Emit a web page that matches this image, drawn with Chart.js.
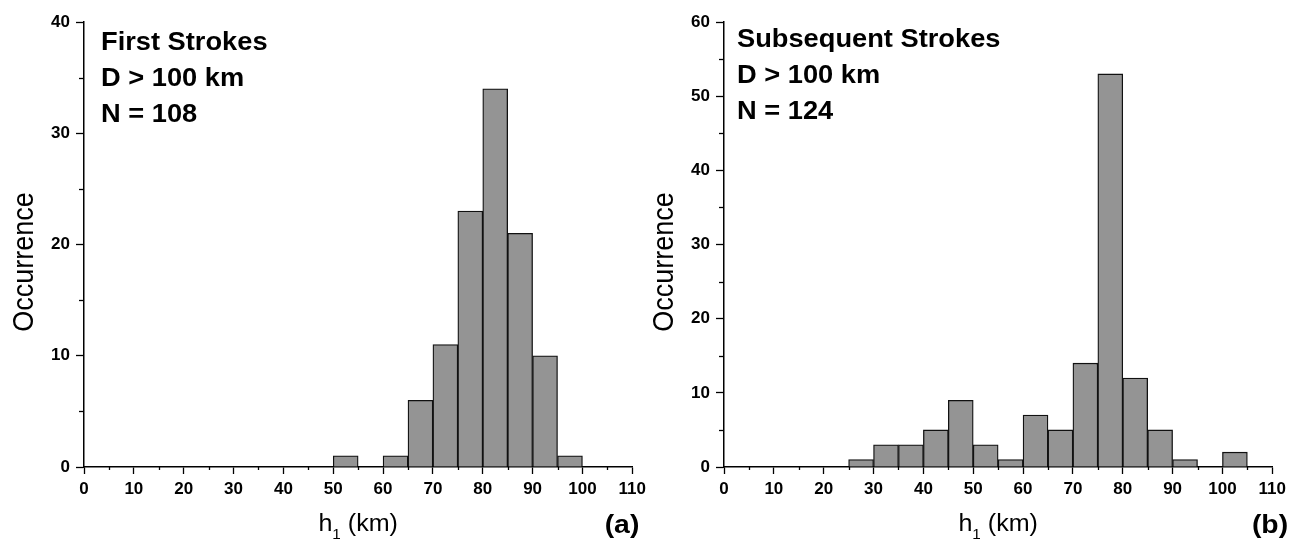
<!DOCTYPE html>
<html>
<head>
<meta charset="utf-8">
<script src="https://cdn.jsdelivr.net/npm/chart.js@4.4.1/dist/chart.umd.min.js"></script>
<style>
  html, body { margin: 0; padding: 0; background: #fff; }
  #wrap { position: relative; width: 1302px; height: 548px; overflow: hidden; background: #fff; }
  #wrap canvas { position: absolute; top: 0; }
</style>
</head>
<body>
<div id="wrap">
  <canvas id="firstChart" width="651" height="548" style="left:0px"></canvas>
  <canvas id="subsChart" width="651" height="548" style="left:640px"></canvas>
</div>
<script>
// 5 km bins, lower edge of each bin (km)
const binStarts = [0, 5, 10, 15, 20, 25, 30, 35, 40, 45, 50, 55, 60, 65, 70, 75, 80, 85, 90, 95, 100, 105];
const binWidth = 5;

// (a) first strokes, D > 100 km
const firstCounts = [0, 0, 0, 0, 0, 0, 0, 0, 0, 0, 1, 0, 1, 6, 11, 23, 34, 21, 10, 1, 0, 0];
// (b) subsequent strokes, D > 100 km
const subsCounts = [0, 0, 0, 0, 0, 1, 3, 3, 5, 9, 3, 1, 7, 5, 14, 53, 12, 5, 1, 0, 2, 0];

const xTicks = [0, 10, 20, 30, 40, 50, 60, 70, 80, 90, 100, 110];
const firstYTicks = [0, 10, 20, 30, 40];
const subsYTicks = [0, 10, 20, 30, 40, 50, 60];

const firstLabels = ['First Strokes', 'D > 100 km', 'N = 108'];
const subsLabels = ['Subsequent Strokes', 'D > 100 km', 'N = 124'];

const yTitle = 'Occurrence';
const FONT = '"Liberation Sans", Arial, Helvetica, sans-serif';
const STRETCH = 1.09; // the figure is a little wider than tall

// draw text squeezed/stretched horizontally
function stretchText(ctx, text, x, y, sx) {
    ctx.save();
    ctx.translate(x, y);
    ctx.scale(sx, 1);
    ctx.fillText(text, 0, 0);
    ctx.restore();
}

// minor ticks, axis titles and the panel texts
const panelDecor = {
    id: 'panelDecor',
    afterDraw(chart, args, opts) {
        const ctx = chart.ctx;
        const xs = chart.scales.x;
        const ys = chart.scales.y;
        const area = chart.chartArea;

        ctx.save();
        ctx.strokeStyle = '#000';
        ctx.lineWidth = 1.3;
        // minor ticks on the y axis
        for (let v = ys.min + 5; v < ys.max; v += 10) {
            const py = Math.round(ys.getPixelForValue(v)) + 0.5;
            ctx.beginPath();
            ctx.moveTo(area.left - 5, py);
            ctx.lineTo(area.left, py);
            ctx.stroke();
        }
        // minor ticks on the x axis
        for (let v = xs.min + 5; v < xs.max; v += 10) {
            const px = Math.round(xs.getPixelForValue(v)) + 0.5;
            ctx.beginPath();
            ctx.moveTo(px, area.bottom);
            ctx.lineTo(px, area.bottom + 3);
            ctx.stroke();
        }

        ctx.fillStyle = '#000';

        // y axis title, rotated
        ctx.save();
        ctx.font = '27px ' + FONT;
        ctx.textAlign = 'center';
        ctx.textBaseline = 'alphabetic';
        ctx.translate(33, 262);
        ctx.scale(STRETCH, 1);
        ctx.rotate(-Math.PI / 2);
        ctx.fillText(yTitle, 0, 0);
        ctx.restore();

        // x axis title: h with subscript 1
        const cx = (area.left + area.right) / 2;
        ctx.textAlign = 'left';
        ctx.textBaseline = 'alphabetic';
        ctx.font = '23px ' + FONT;
        const wH = ctx.measureText('h').width;
        const wRest = ctx.measureText(' (km)').width;
        ctx.font = '14px ' + FONT;
        const wSub = ctx.measureText('1').width;
        let x0 = cx - (wH + wSub + wRest) * STRETCH / 2;
        ctx.font = '23px ' + FONT;
        stretchText(ctx, 'h', x0, 531, STRETCH);
        ctx.font = '14px ' + FONT;
        stretchText(ctx, '1', x0 + wH * STRETCH, 539, STRETCH);
        ctx.font = '23px ' + FONT;
        stretchText(ctx, ' (km)', x0 + (wH + wSub) * STRETCH, 531, STRETCH);

        // text block in the upper left
        ctx.font = 'bold 25px ' + FONT;
        opts.lines.forEach((t, i) => {
            stretchText(ctx, t, opts.textX, opts.textY + i * 36, STRETCH);
        });

        // panel letter
        ctx.font = 'bold 26px ' + FONT;
        ctx.textAlign = 'center';
        stretchText(ctx, opts.letter, opts.letterX, 533, STRETCH);
        ctx.restore();
    }
};

function makeHistogram(canvasId, counts, yTicks, lines, textX, textY, letter, letterX) {
    const points = binStarts.map((b, i) => ({ x: b + binWidth / 2, y: counts[i] }));
    const tickFont = { family: FONT, size: 17, weight: 'bold' };

    return new Chart(document.getElementById(canvasId), {
        type: 'bar',
        data: {
            datasets: [{
                data: points,
                backgroundColor: '#949494',
                borderColor: '#111',
                borderWidth: 1.3,
                barPercentage: 1.0,
                categoryPercentage: 1.0
            }]
        },
        options: {
            responsive: false,
            animation: false,
            events: [],
            layout: { padding: { top: 22, right: 15, bottom: 0, left: 0 } },
            plugins: {
                legend: { display: false },
                tooltip: { enabled: false },
                panelDecor: {
                    lines: lines,
                    textX: textX,
                    textY: textY,
                    letter: letter,
                    letterX: letterX
                }
            },
            scales: {
                x: {
                    type: 'linear',
                    offset: false,
                    min: xTicks[0],
                    max: xTicks[xTicks.length - 1],
                    afterBuildTicks: (scale) => { scale.ticks = xTicks.map(v => ({ value: v })); },
                    afterFit: (scale) => { scale.height = 81; },
                    grid: { offset: false, drawOnChartArea: false, drawTicks: true, tickLength: 7, tickColor: '#000', tickWidth: 1.3 },
                    border: { display: true, color: '#000', width: 1.5 },
                    ticks: { color: '#000', font: tickFont, padding: 5, maxRotation: 0, autoSkip: false }
                },
                y: {
                    type: 'linear',
                    min: yTicks[0],
                    max: yTicks[yTicks.length - 1],
                    afterBuildTicks: (scale) => { scale.ticks = yTicks.map(v => ({ value: v })); },
                    afterFit: (scale) => { scale.width = 84; },
                    grid: { drawOnChartArea: false, drawTicks: true, tickLength: 8, tickColor: '#000', tickWidth: 1.3 },
                    border: { display: true, color: '#000', width: 1.5 },
                    ticks: { color: '#000', font: tickFont, padding: 6 }
                }
            }
        },
        plugins: [panelDecor]
    });
}

makeHistogram('firstChart', firstCounts, firstYTicks, firstLabels, 101, 50, '(a)', 622);
makeHistogram('subsChart', subsCounts, subsYTicks, subsLabels, 97, 47, '(b)', 630);
</script>
</body>
</html>
